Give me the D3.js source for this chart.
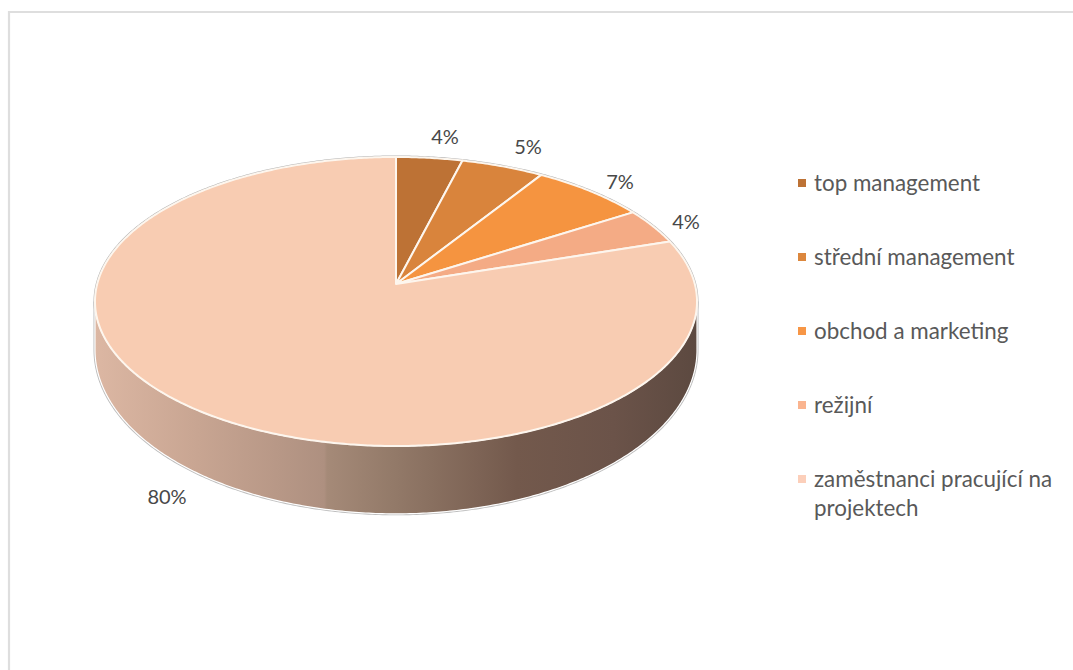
<!DOCTYPE html>
<html><head><meta charset="utf-8">
<script src="https://cdn.jsdelivr.net/npm/d3@7/dist/d3.min.js"></script>
<style>html,body{margin:0;padding:0;background:#fff}svg{display:block}text{font-family:Lato,"Noto Sans",sans-serif}</style>
</head><body><svg id="c" width="1073" height="670"></svg>
<script>
const categories=["top management","střední management","obchod a marketing","režijní","zaměstnanci pracující na projektech"];
const legendLines=[["top management"],["střední management"],["obchod a marketing"],["režijní"],["zaměstnanci pracující na","projektech"]];
const values=[4,5,7,4,80];
const valueLabels=["4%","5%","7%","4%","80%"];
const colors=["#bd7235","#d9843c","#f59440","#f4ab85","#f8ccb2"];
const legendColors=["#bd7235","#dc873d","#f79646","#fab48f","#fccfba"];
const sideStops=[[0,"#dcb7a3"],[.17,"#c8a592"],[.38,"#ae9080"],[.385,"#a58a78"],[.5,"#927968"],[.7,"#73594c"],[.86,"#6b5349"],[1,"#5c4940"]];

const svg=d3.select("#c");
// frame
svg.append("path").attr("d","M9,670V12H1073").attr("fill","none").attr("stroke","#dedede").attr("stroke-width",2.2);

// projected disc: unit-circle to screen, with perspective
const K=0.1211,A=298.8,CX=396;
const proj=(y0,b)=>t=>{const u=Math.sin(t),v=Math.cos(t),w=1+K*v;return [CX+A*u/w,y0-b*v/w];};
const topDisc=proj(284,142.4), botDisc=proj(330,161.6);
const line=d3.line();
const arcPts=(f,a,b)=>{const n=Math.max(2,Math.ceil((b-a)/0.01));return d3.range(n+1).map(i=>f(a+(b-a)*i/n));};
const disc=f=>line(arcPts(f,0,2*Math.PI))+"Z";

const defs=svg.append("defs");
const g=defs.append("linearGradient").attr("id","side").attr("gradientUnits","userSpaceOnUse").attr("x1",95).attr("x2",698).attr("y1",0).attr("y2",0);
sideStops.forEach(s=>g.append("stop").attr("offset",s[0]).attr("stop-color",s[1]));

// silhouette
const t0=Math.PI/2+Math.asin(K), t1=3*Math.PI/2-Math.asin(K);
const lowerPts=arcPts(botDisc,t0,t1);
const upperBack=arcPts(topDisc,t0,t1).reverse();
const sidePath=line([...lowerPts,...upperBack])+"Z";
svg.append("path").attr("d",disc(topDisc)).attr("fill","none").attr("stroke","#b5b5b5").attr("stroke-width",3);
svg.append("path").attr("d",sidePath).attr("fill","none").attr("stroke","#bdbdbd").attr("stroke-width",3);
svg.append("path").attr("d",sidePath).attr("fill","url(#side)").attr("stroke","#fff").attr("stroke-width",1.2);

// slices
const pie=d3.pie().sort(null).value(d=>d)(values);
svg.append("g").selectAll("path").data(pie).join("path")
 .attr("d",d=>line([[CX,284],...arcPts(topDisc,d.startAngle,d.endAngle)])+"Z")
 .attr("fill",(d,i)=>colors[i]).attr("stroke","#fdf6ee").attr("stroke-width",2).attr("stroke-linejoin","round");

// value labels
const labelPos=[[445,137],[528,147],[620,182],[686,222],[167,497]];
svg.append("g").selectAll("text").data(valueLabels).join("text")
 .attr("x",(d,i)=>labelPos[i][0]).attr("y",(d,i)=>labelPos[i][1]+7)
 .attr("text-anchor","middle").attr("font-size",20).attr("fill","#484848").text(d=>d);

// legend
const legendY=d3.scalePoint().domain(categories).range([183,479]);
const lg=svg.append("g").selectAll("g").data(categories).join("g");
lg.append("rect").attr("x",798).attr("y",d=>legendY(d)-4).attr("width",8).attr("height",8).attr("fill",(d,i)=>legendColors[i]);
lg.append("text").attr("x",814).attr("y",d=>legendY(d)+8).attr("font-size",22.4).attr("fill","#595959")
 .selectAll("tspan").data((d,i)=>legendLines[i]).join("tspan").attr("x",814).attr("dy",(d,i)=>i?29:0).text(d=>d);
</script></body></html>
